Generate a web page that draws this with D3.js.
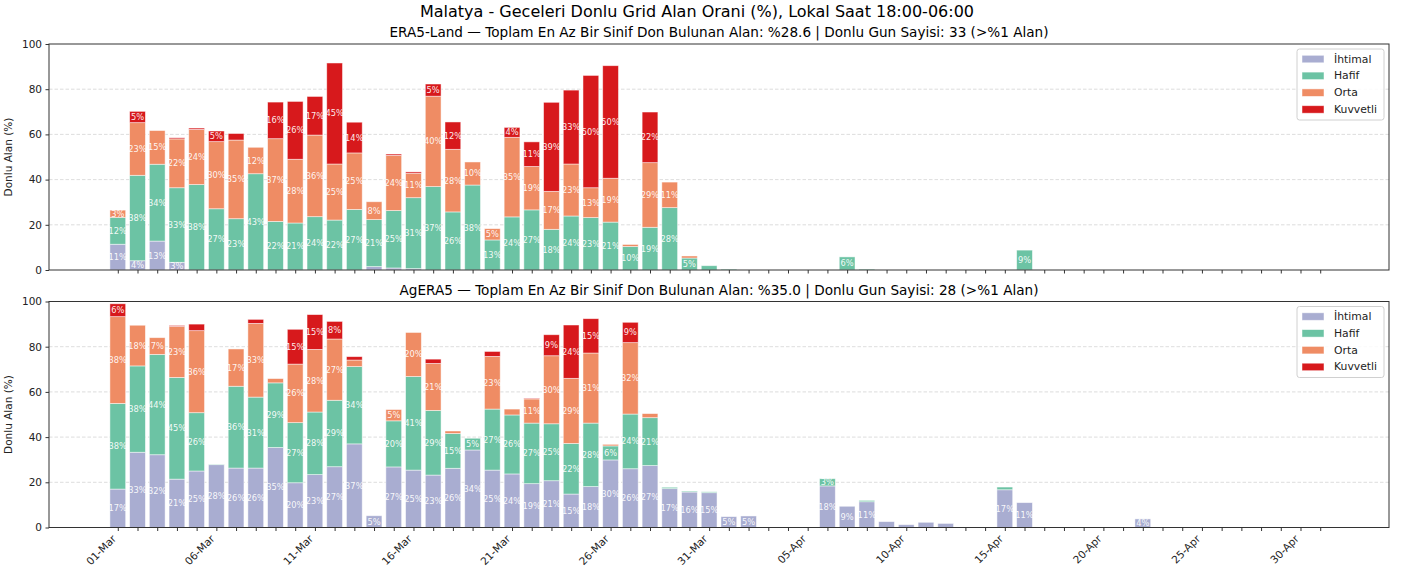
<!DOCTYPE html>
<html>
<head>
<meta charset="utf-8">
<script src="https://cdn.jsdelivr.net/npm/d3@7"></script>
<style>
  html, body { margin: 0; padding: 0; background: #fff; }
  svg { display: block; font-family: "DejaVu Sans", sans-serif; }
</style>
</head>
<body>
<svg id="chart" width="1411" height="578"></svg>
<script>
// ---------------- DATA ----------------
const days = [
  "01-Mar","02-Mar","03-Mar","04-Mar","05-Mar","06-Mar","07-Mar","08-Mar","09-Mar","10-Mar",
  "11-Mar","12-Mar","13-Mar","14-Mar","15-Mar","16-Mar","17-Mar","18-Mar","19-Mar","20-Mar",
  "21-Mar","22-Mar","23-Mar","24-Mar","25-Mar","26-Mar","27-Mar","28-Mar","29-Mar","30-Mar",
  "31-Mar","01-Apr","02-Apr","03-Apr","04-Apr","05-Apr","06-Apr","07-Apr","08-Apr","09-Apr",
  "10-Apr","11-Apr","12-Apr","13-Apr","14-Apr","15-Apr","16-Apr","17-Apr","18-Apr","19-Apr",
  "20-Apr","21-Apr","22-Apr","23-Apr","24-Apr","25-Apr","26-Apr","27-Apr","28-Apr","29-Apr",
  "30-Apr","01-May"
];
const tickLabels = ["01-Mar","06-Mar","11-Mar","16-Mar","21-Mar","26-Mar","31-Mar","05-Apr","10-Apr","15-Apr","20-Apr","25-Apr","30-Apr"];
const yTicks = [0, 20, 40, 60, 80, 100];

const classes = ["İhtimal", "Hafif", "Orta", "Kuvvetli"];
const colors = ["#a9add1", "#6cc3a4", "#ef8c64", "#d7191c"];

const mainTitle = "Malatya - Geceleri Donlu Grid Alan Orani (%), Lokal Saat 18:00-06:00";
const era5Title = "ERA5-Land — Toplam En Az Bir Sinif Don Bulunan Alan: %28.6 | Donlu Gun Sayisi: 33 (>%1 Alan)";
const agTitle = "AgERA5 — Toplam En Az Bir Sinif Don Bulunan Alan: %35.0 | Donlu Gun Sayisi: 28 (>%1 Alan)";
const yLabel = "Donlu Alan (%)";

// ERA5-Land
const era5Ihtimal = [11.4,4.1,12.8,3.4,0,0,0,0,0,0, 0,0,0,1.5,0.9,0.6,0,0,0,0, 0,0,0,0,0,0,0,0,0,0, 0,0,0,0,0,0,0,0,0,0, 0,0,0,0,0,0,0,0,0,0, 0,0,0,0,0,0,0,0,0,0, 0,0];
const era5Hafif   = [11.9,37.8,34.0,33.0,37.8,27.1,22.7,42.6,21.5,20.8, 23.6,22.1,26.8,20.8,25.4,31.4,36.9,25.7,37.6,13.3, 23.5,26.6,18.0,23.9,23.2,21.2,10.4,18.9,27.6,5.3, 1.9,0.4,0,0,0,0,0,5.8,0.4,0, 0,0,0,0,0,0,8.8,0,0,0, 0,0,0,0,0,0,0,0,0,0, 0,0];
const era5Orta    = [3.2,23.3,14.9,21.6,24.4,29.7,34.8,11.7,36.6,28.2, 36.1,24.8,25.0,7.9,24.4,10.8,40.0,27.7,10.2,5.0, 35.2,19.2,16.8,23.0,13.2,19.4,0.9,28.6,11.3,0.9, 0,0,0,0,0,0,0,0,0,0, 0,0,0,0,0,0,0,0,0,0, 0,0,0,0,0,0,0,0,0,0, 0,0];
const era5Kuvvetli= [0,5.0,0,0.5,0.6,4.7,2.9,0,16.2,25.6, 17.1,44.7,13.6,0,0.6,0.6,5.4,12.1,0,0, 4.4,10.9,39.4,32.7,49.7,49.8,0,22.4,0,0, 0,0,0,0,0,0,0,0,0,0, 0,0,0,0,0,0,0,0,0,0, 0,0,0,0,0,0,0,0,0,0, 0,0];

// AgERA5
const agIhtimal = [17.0,33.3,32.2,21.4,25.0,27.8,26.3,26.3,35.4,19.8, 23.4,26.9,37.0,5.2,26.8,25.4,23.2,26.2,34.3,25.4, 23.7,19.4,20.7,14.8,18.1,29.9,26.0,27.4,17.2,15.7, 15.4,4.8,5.1,0,0,0,18.4,9.4,11.4,2.6, 1.25,2.3,1.8,0,0,16.7,11.0,0,0,0, 0,0,3.8,0,0,0,0,0,0,0, 0,0];
const agHafif   = [37.9,38.2,44.4,45.0,25.8,0.2,36.2,31.4,28.6,26.6, 27.7,29.4,34.2,0,20.4,41.4,28.6,15.4,5.2,27.0, 26.1,26.8,25.2,22.4,28.1,6.2,24.2,21.2,0.6,0.4, 0.4,0,0,0,0,0,3.2,0,0.6,0, 0,0,0,0,0,1.2,0,0,0,0, 0,0,0,0,0,0,0,0,0,0, 0,0];
const agOrta    = [38.4,18.0,7.4,22.6,36.3,0,16.5,32.6,1.9,25.9, 27.7,27.1,2.9,0,5.0,19.5,20.8,1.1,0,23.3, 2.6,10.7,30.1,28.8,31.0,0.7,31.6,1.8,0,0, 0,0,0,0,0,0,0,0,0,0, 0,0,0,0,0,0,0,0,0,0, 0,0,0,0,0,0,0,0,0,0, 0,0];
const agKuvvetli= [5.7,0,0,0.4,2.9,0,0,1.8,0,15.4, 15.4,7.8,1.5,0,0,0,1.9,0,0,2.2, 0,0.3,9.3,23.6,15.2,0,9.0,0,0,0, 0,0,0,0,0,0,0,0,0,0, 0,0,0,0,0,0,0,0,0,0, 0,0,0,0,0,0,0,0,0,0, 0,0];

// ---------------- LAYOUT ----------------
const svg = d3.select("#chart");
const W = 1411, H = 578;
svg.append("rect").attr("width", W).attr("height", H).attr("fill", "#fff");

const left = 49, right = 1389;
const panels = [
  { title: era5Title, top: 44, bottom: 270, series: [era5Ihtimal, era5Hafif, era5Orta, era5Kuvvetli], xLabels: false },
  { title: agTitle, top: 301.5, bottom: 527.5, series: [agIhtimal, agHafif, agOrta, agKuvvetli], xLabels: true }
];

const n = days.length;
const pad = 0.05 * ((n - 1) + 0.8);
const x = d3.scaleLinear().domain([-0.4 - pad, (n - 1) + 0.4 + pad]).range([left, right]);
const barW = (x(1) - x(0)) * 0.8;

svg.append("text")
  .attr("x", 697).attr("y", 17)
  .attr("text-anchor", "middle")
  .attr("font-size", 16).attr("fill", "#000")
  .text(mainTitle);

panels.forEach(p => {
  const y = d3.scaleLinear().domain([0, 100]).range([p.bottom, p.top]);
  const g = svg.append("g");

  // subtitle
  g.append("text")
    .attr("x", (left + right) / 2).attr("y", p.top - 7)
    .attr("text-anchor", "middle")
    .attr("font-size", 13.6).attr("fill", "#000")
    .text(p.title);

  // grid
  g.append("g").selectAll("line").data(yTicks.filter(t => t > 0 && t < 100)).join("line")
    .attr("x1", left).attr("x2", right)
    .attr("y1", d => y(d)).attr("y2", d => y(d))
    .attr("stroke", "#d4d4d4").attr("stroke-width", 0.8)
    .attr("stroke-dasharray", "3.5,2");

  // stacked data
  const rows = days.map((d, i) => {
    const r = { i };
    classes.forEach((c, k) => r[c] = p.series[k][i]);
    return r;
  });
  const stacked = d3.stack().keys(classes)(rows);

  stacked.forEach((layer, k) => {
    const lg = g.append("g");
    lg.selectAll("rect").data(layer.filter(d => d[1] - d[0] > 0)).join("rect")
      .attr("x", d => x(d.data.i) - barW / 2)
      .attr("width", barW)
      .attr("y", d => y(d[1]))
      .attr("height", d => y(d[0]) - y(d[1]))
      .attr("fill", colors[k])
      .attr("stroke", "#fff").attr("stroke-opacity", 0.6).attr("stroke-width", 0.8);
  });

  // labels
  stacked.forEach((layer, k) => {
    g.append("g").selectAll("text").data(layer.filter(d => d[1] - d[0] >= 3)).join("text")
      .attr("x", d => x(d.data.i))
      .attr("y", d => y((d[0] + d[1]) / 2))
      .attr("text-anchor", "middle")
      .attr("dominant-baseline", "central")
      .attr("font-size", 8.3).attr("fill", "#fff").attr("fill-opacity", 0.92)
      .text(d => Math.round(d[1] - d[0]) + "%");
  });

  // frame
  g.append("rect")
    .attr("x", left).attr("y", p.top)
    .attr("width", right - left).attr("height", p.bottom - p.top)
    .attr("fill", "none").attr("stroke", "#333").attr("stroke-width", 1);

  // y axis
  const yAxis = d3.axisLeft(y).tickValues(yTicks).tickSize(3.5).tickPadding(3.5);
  const ya = g.append("g").attr("transform", `translate(${left},0)`).call(yAxis);
  ya.select(".domain").remove();
  ya.selectAll("text").attr("font-size", 10.5).attr("fill", "#222").attr("font-family", "DejaVu Sans");
  ya.selectAll("line").attr("stroke", "#333");

  // x axis ticks (every day)
  const xAxis = d3.axisBottom(x).tickValues(d3.range(n)).tickSize(3.5).tickFormat("");
  const xa = g.append("g").attr("transform", `translate(0,${p.bottom})`).call(xAxis);
  xa.select(".domain").remove();
  xa.selectAll("line").attr("stroke", "#333");

  if (p.xLabels) {
    g.append("g").selectAll("text").data(tickLabels).join("text")
      .attr("transform", d => `translate(${x(days.indexOf(d)) - 1},${p.bottom + 12}) rotate(-45)`)
      .attr("text-anchor", "end")
      .attr("font-size", 10.5).attr("fill", "#222")
      .text(d => d);
  }

  // y label
  g.append("text")
    .attr("transform", `translate(12,${(p.top + p.bottom) / 2}) rotate(-90)`)
    .attr("text-anchor", "middle")
    .attr("font-size", 10.5).attr("fill", "#222")
    .text(yLabel);

  // legend
  const lgX = 1297, lgY = p.top + 5;
  const leg = g.append("g");
  leg.append("rect")
    .attr("x", lgX).attr("y", lgY).attr("width", 87).attr("height", 71)
    .attr("rx", 2.5).attr("fill", "#fff").attr("fill-opacity", 0.85)
    .attr("stroke", "#d0d0d0").attr("stroke-width", 1);
  classes.forEach((c, k) => {
    const cy = lgY + 10 + k * 16.8;
    leg.append("rect").attr("x", lgX + 5).attr("y", cy - 3.7)
      .attr("width", 22).attr("height", 7.5).attr("fill", colors[k])
      .attr("stroke", "#fff").attr("stroke-opacity", 0.6).attr("stroke-width", 0.8);
    leg.append("text").attr("x", lgX + 37).attr("y", cy)
      .attr("dominant-baseline", "central")
      .attr("font-size", 10.8).attr("fill", "#222")
      .text(c);
  });
});
</script>
</body>
</html>
